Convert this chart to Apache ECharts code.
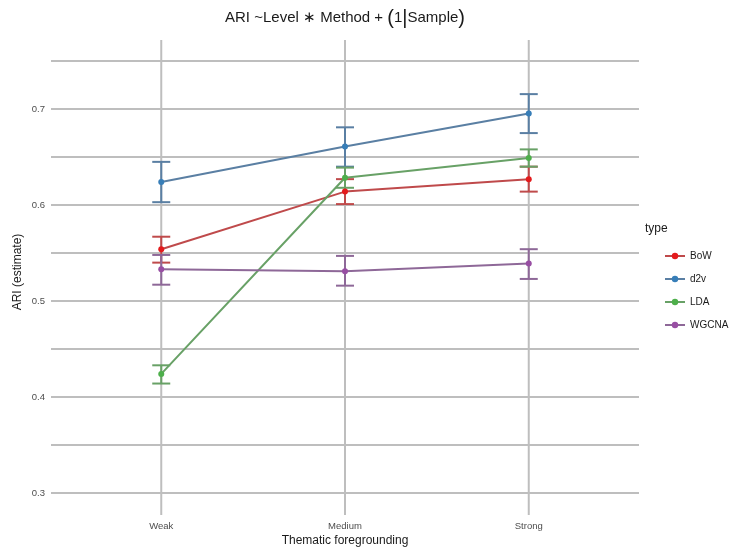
<!DOCTYPE html>
<html><head><meta charset="utf-8">
<script src="https://cdn.jsdelivr.net/npm/echarts@6/dist/echarts.min.js"></script>
<style>html,body{margin:0;padding:0;background:#fff}#c{width:730px;height:551px}</style>
</head><body><div id="c"></div>
<script>
const categories = ['Weak', 'Medium', 'Strong'];
const methods = ['BoW', 'd2v', 'LDA', 'WGCNA'];
const colors = ['#E41A1C', '#377EB8', '#4DAF4A', '#984EA3'];
const lineColors = ['#bf4a4b', '#5a7fa3', '#68a166', '#8e6898'];
const est_BoW = [0.554, 0.614, 0.627];
const lo_BoW = [0.540, 0.601, 0.614];
const hi_BoW = [0.567, 0.627, 0.640];
const est_d2v = [0.624, 0.661, 0.6955];
const lo_d2v = [0.603, 0.640, 0.675];
const hi_d2v = [0.645, 0.681, 0.7156];
const est_LDA = [0.424, 0.6285, 0.649];
const lo_LDA = [0.414, 0.618, 0.640];
const hi_LDA = [0.433, 0.639, 0.658];
const est_WGCNA = [0.533, 0.531, 0.539];
const lo_WGCNA = [0.517, 0.516, 0.523];
const hi_WGCNA = [0.548, 0.547, 0.554];
const yTicks = [0.3, 0.4, 0.5, 0.6, 0.7];
const yGrid = [0.3, 0.35, 0.4, 0.45, 0.5, 0.55, 0.6, 0.65, 0.7, 0.75];

const est = {BoW: est_BoW, d2v: est_d2v, LDA: est_LDA, WGCNA: est_WGCNA};
const lo = {BoW: lo_BoW, d2v: lo_d2v, LDA: lo_LDA, WGCNA: lo_WGCNA};
const hi = {BoW: hi_BoW, d2v: hi_d2v, LDA: hi_LDA, WGCNA: hi_WGCNA};

const XMIN = 0.4, XMAX = 3.6, YMIN = 0.277, YMAX = 0.772;
const gridStyle = {stroke: '#bebebe', lineWidth: 2};
const series = [];
series.push({
  type: 'custom', name: '_hgrid', silent: true, z: 1,
  data: yGrid.map(v => [v]),
  renderItem: function (params, api) {
    const a = api.coord([XMIN, api.value(0)]);
    const b = api.coord([XMAX, api.value(0)]);
    return {type: 'line', shape: {x1: a[0], y1: a[1], x2: b[0], y2: b[1]}, style: gridStyle};
  }
});
series.push({
  type: 'custom', name: '_vgrid', silent: true, z: 1,
  data: categories.map((c, i) => [i + 1]),
  renderItem: function (params, api) {
    const a = api.coord([api.value(0), YMIN]);
    const b = api.coord([api.value(0), YMAX]);
    return {type: 'line', shape: {x1: a[0], y1: a[1], x2: b[0], y2: b[1]}, style: gridStyle};
  }
});
methods.forEach((m, k) => {
  series.push({
    type: 'custom', name: '_eb_' + m, z: 3, silent: true,
    itemStyle: {color: colors[k]},
    data: categories.map((c, i) => [i + 1, lo[m][i], hi[m][i]]),
    renderItem: function (params, api) {
      const x = api.value(0);
      const p1 = api.coord([x, api.value(1)]);
      const p2 = api.coord([x, api.value(2)]);
      const hw = 9;
      const st = {stroke: lineColors[k], lineWidth: 2};
      return {type: 'group', children: [
        {type: 'rect', shape: {x: p1[0] - 1, y: p2[1], width: 2, height: p1[1] - p2[1]}, style: {fill: lineColors[k]}},
        {type: 'line', shape: {x1: p1[0]-hw, y1: p1[1], x2: p1[0]+hw, y2: p1[1]}, style: st},
        {type: 'line', shape: {x1: p2[0]-hw, y1: p2[1], x2: p2[0]+hw, y2: p2[1]}, style: st}
      ]};
    }
  });
  series.push({
    type: 'line', name: m, z: 4,
    data: categories.map((c, i) => [i + 1, est[m][i]]),
    symbol: 'circle', symbolSize: 6,
    itemStyle: {color: colors[k]},
    lineStyle: {color: lineColors[k], width: 2},
    animation: false
  });
});

const chart = echarts.init(document.getElementById('c'));
chart.setOption({
  animation: false,
  backgroundColor: '#fff',
  grid: {left: 51, top: 40, width: 588, height: 475, containLabel: false},
  xAxis: {
    type: 'value', min: XMIN, max: XMAX,
    splitLine: {show: false}, axisLine: {show: false}, axisTick: {show: false},
    axisLabel: {
      customValues: [1, 2, 3], margin: 6,
      formatter: v => categories[Math.round(v) - 1] || '',
      color: '#4d4d4d', fontSize: 9.5, fontFamily: 'Liberation Sans'
    }
  },
  yAxis: {
    type: 'value', min: YMIN, max: YMAX,
    splitLine: {show: false}, axisLine: {show: false}, axisTick: {show: false},
    axisLabel: {
      customValues: yTicks, margin: 6,
      formatter: v => v.toFixed(1),
      color: '#4d4d4d', fontSize: 9.5, fontFamily: 'Liberation Sans'
    }
  },
  legend: {
    orient: 'vertical', left: 659, top: 246,
    itemWidth: 20, itemHeight: 8, itemGap: 13,
    data: methods,
    textStyle: {color: '#1a1a1a', fontSize: 10, fontFamily: 'Liberation Sans'}
  },
  graphic: [
    {type: 'text', left: 645, top: 223, style: {text: 'type', fontSize: 12, fill: '#1a1a1a', fontFamily: 'Liberation Sans'}},
    {type: 'text', x: 345, y: 541, style: {text: 'Thematic foregrounding', fontSize: 12, fill: '#1a1a1a', fontFamily: 'Liberation Sans', align: 'center', verticalAlign: 'middle'}},
    {type: 'text', x: 18, y: 272, rotation: Math.PI / 2, style: {text: 'ARI (estimate)', fontSize: 12, fill: '#1a1a1a', fontFamily: 'Liberation Sans', align: 'center', verticalAlign: 'middle'}},
    {type: 'text', x: 345, y: 18, style: {
      text: 'ARI ~Level ∗ Method + {p|(}1{p||}Sample{p|)}',
      rich: {p: {fontSize: 20, fill: '#1a1a1a', fontFamily: 'Liberation Sans'}},
      fontSize: 15, fill: '#1a1a1a', fontFamily: 'Liberation Sans', align: 'center', verticalAlign: 'middle'}}
  ],
  series: series
});
</script></body></html>
